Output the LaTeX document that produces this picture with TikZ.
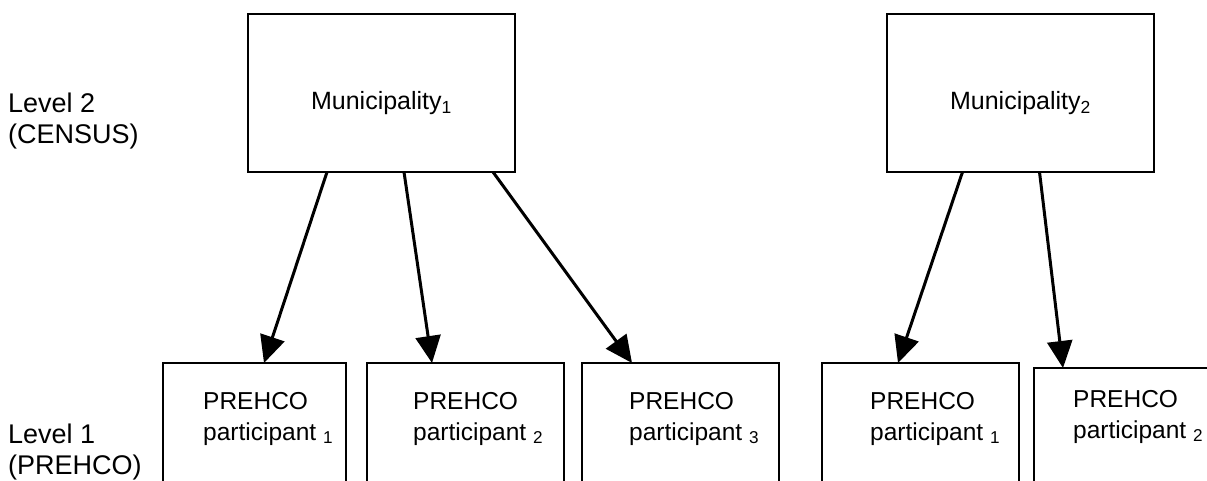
\documentclass[tikz,border=0pt]{standalone}
\usepackage{fontspec}
\setmainfont{Liberation Sans}
\usetikzlibrary{arrows.meta,positioning}

\begin{document}
\begin{tikzpicture}[node distance=21pt,
  muni/.style={rectangle, draw, line width=1.4pt, outer sep=0pt, inner sep=0pt,
               minimum width=267pt, minimum height=158pt,
               font=\fontsize{25}{30}\selectfont, text height=34pt, text depth=0pt},
  part/.style={rectangle, draw, line width=1.4pt, outer sep=0pt,
               minimum width=197pt, minimum height=150pt},
  ptxt/.style={anchor=base west, inner sep=0pt, align=left,
               font=\fontsize{24.5}{31}\selectfont},
  lvl/.style={anchor=base west, inner sep=0pt, align=left,
              font=\fontsize{27}{31}\selectfont},
  arr/.style={-{Triangle[length=27pt,width=25pt]}, line width=3pt}]

  \useasboundingbox (0,0) rectangle (1207pt,-481pt);

  % level 2
  \node[muni] (m1) at (381.5pt,-93pt) {Municipality\textsubscript{1}};
  \node[muni, right=372pt of m1] (m2) {Municipality\textsubscript{2}};

  % level 1
  \node[part, minimum width=183pt, anchor=north west] (p1) at (163pt,-363pt) {};
  \node[part, right=21pt of p1] (p2) {};
  \node[part, right=18pt of p2] (p3) {};
  \node[part, right=43pt of p3] (p4) {};
  \node[part, right=15pt of p4, yshift=-5pt] (p5) {};

  \node[ptxt] (t1) at ([xshift=40pt,yshift=-77pt]p1.north west) {PREHCO\\participant \textsubscript{1}};
  \node[ptxt] (t2) at ([xshift=46pt,yshift=-77pt]p2.north west) {PREHCO\\participant \textsubscript{2}};
  \node[ptxt] (t3) at ([xshift=47pt,yshift=-77pt]p3.north west) {PREHCO\\participant \textsubscript{3}};
  \node[ptxt] (t4) at ([xshift=48pt,yshift=-77pt]p4.north west) {PREHCO\\participant \textsubscript{1}};
  \node[ptxt] (t5) at ([xshift=39pt,yshift=-70pt]p5.north west) {PREHCO\\participant \textsubscript{2}};

  \node[lvl] (lv2) at (8pt,-144pt) {Level 2\\(CENSUS)};
  \node[lvl] (lv1) at (8pt,-474pt) {Level 1\\(PREHCO)};

  \draw[arr] ([xshift=-54.5pt]m1.south) -- ([xshift=9.5pt]p1.north);
  \draw[arr] ([xshift=22.5pt]m1.south)  -- ([xshift=-33.5pt]p2.north);
  \draw[arr] ([xshift=111.5pt]m1.south) -- ([xshift=-48.5pt]p3.north);
  \draw[arr] ([xshift=-58pt]m2.south)   -- ([xshift=-22.5pt]p4.north);
  \draw[arr] ([xshift=19pt]m2.south)    -- ([xshift=-69.5pt]p5.north);

\end{tikzpicture}
\end{document}
